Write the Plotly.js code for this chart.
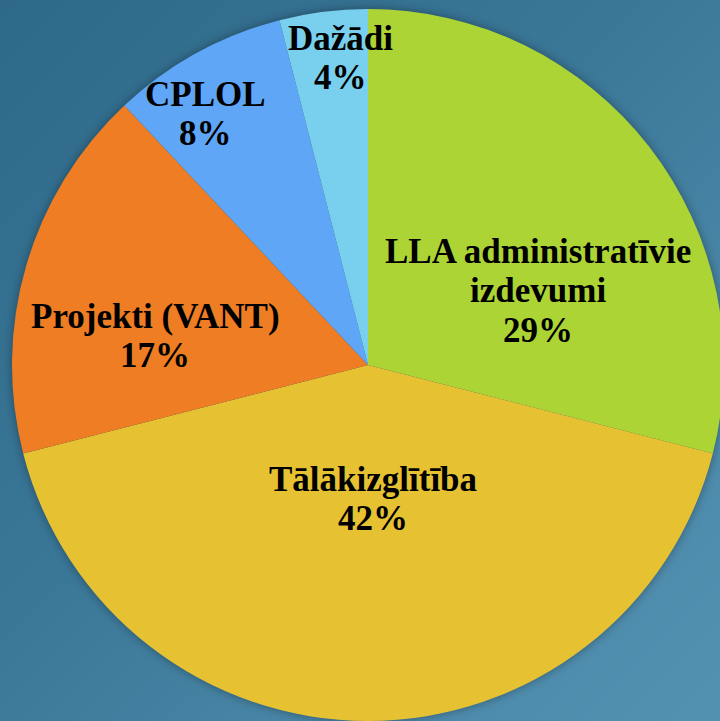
<!DOCTYPE html>
<html>
<head>
<meta charset="utf-8">
<script src="https://cdn.plot.ly/plotly-3.0.1.min.js"></script>
<style>
html,body{margin:0;padding:0;}
body{width:720px;height:721px;overflow:hidden;
background: linear-gradient(135deg, #2e6989 0%, #3b7797 45%, #4b88a9 75%, #5492b2 100%);}
#chart{width:736px;height:730px;}
</style>
</head>
<body>
<div id="chart"></div>
<script>
const categories = ["LLA administratīvie izdevumi", "Tālākizglītība", "Projekti (VANT)", "CPLOL", "Dažādi"];
const values = [29, 42, 17, 8, 4];
const labelLines = [["LLA administratīvie", "izdevumi", "29%"], ["Tālākizglītība", "42%"], ["Projekti (VANT)", "17%"], ["CPLOL", "8%"], ["Dažādi", "4%"]];
const colors = ["#acd434", "#e6c233", "#ee7d23", "#5fa7f6", "#79cfee"];

const W = 736, H = 730;
const cx = 368, cy = 365, R = 356;
// label placement: centre x and first-line baseline (pixels)
const labelPos = [[538, 263], [373, 491], [155, 328], [205, 106], [340, 50]];
const lineGap = 39.5;
const fontSize = 35;

const trace = {
  type: 'pie',
  labels: categories,
  values: values,
  sort: false,
  direction: 'clockwise',
  rotation: 0,
  textinfo: 'none',
  hoverinfo: 'label+percent',
  marker: {colors: colors, line: {width: 0}},
  domain: {x: [(cx - R) / W, (cx + R) / W], y: [(H - cy - R) / H, (H - cy + R) / H]},
  showlegend: false
};

const annotations = [];
labelLines.forEach((lines, i) => {
  lines.forEach((t, j) => {
    const base = labelPos[i][1] + j * lineGap;
    const mid = base - 0.33 * fontSize;
    annotations.push({
      text: '<b>' + t + '</b>',
      xref: 'paper', yref: 'paper',
      x: labelPos[i][0] / W, y: 1 - mid / H,
      xanchor: 'center', yanchor: 'middle',
      showarrow: false,
      align: 'center',
      font: {family: 'Liberation Serif', size: fontSize, color: '#000'}
    });
  });
});

Plotly.newPlot('chart', [trace], {
  width: W, height: H,
  margin: {l: 0, r: 0, t: 0, b: 0},
  paper_bgcolor: 'rgba(0,0,0,0)',
  plot_bgcolor: 'rgba(0,0,0,0)',
  annotations: annotations
}, {displayModeBar: false, staticPlot: true}).then(() => {
  const pl = document.querySelector('.pielayer');
  if (pl) pl.style.filter = 'drop-shadow(0 0 5px rgba(0,0,0,0.35))';
});
</script>
</body>
</html>
